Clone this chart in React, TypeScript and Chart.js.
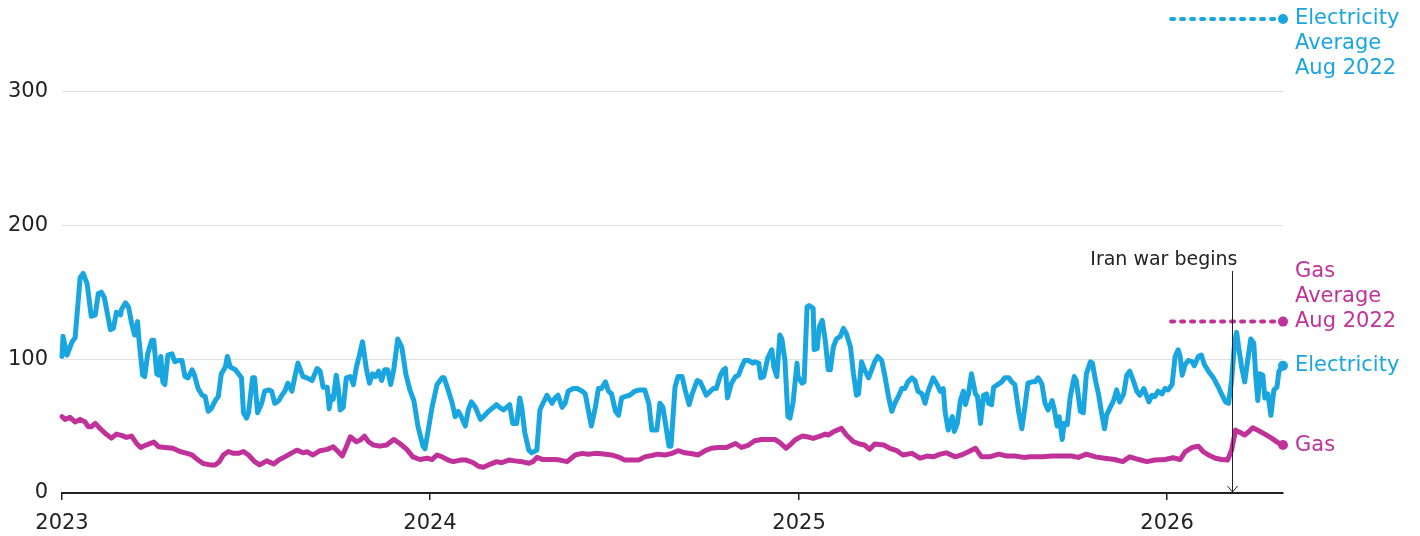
import React, { useEffect, useRef } from "react";
import { Chart, registerables } from "chart.js";

Chart.register(...registerables);

// Days since 2023-01-01
const elecDays = [0,1,5,10,13,18,21,25,29,33,36,39,42,48,51,54,58,59,63,66,69,72,75,76,80,82,85,89,91,94,96,98,100,102,105,109,112,115,119,122,125,129,131,135,139,142,145,148,152,155,158,162,164,167,172,175,178,180,183,185,189,191,194,198,201,205,208,211,215,218,221,224,228,231,234,239,243,248,253,256,259,263,265,267,269,272,274,276,279,282,286,289,292,295,298,302,305,308,311,314,317,320,323,326,329,333,337,341,345,349,353,358,360,363,367,372,377,379,383,387,390,393,396,400,403,406,410,415,418,423,428,431,434,438,441,444,447,451,454,456,459,463,466,471,474,477,481,486,489,492,496,499,502,507,511,516,519,522,525,529,532,535,539,542,545,549,552,555,558,563,568,573,578,582,585,590,593,596,600,602,604,608,611,615,618,622,625,630,633,636,639,643,646,649,653,656,658,660,664,668,671,674,677,681,685,687,691,693,696,700,704,706,709,712,714,717,720,722,725,729,730,734,736,739,741,745,746,749,751,754,757,760,762,765,768,772,775,778,782,785,788,790,793,796,800,803,806,809,813,816,820,823,826,830,833,836,839,843,846,849,853,856,859,864,868,871,874,876,879,883,885,888,891,894,896,899,902,906,908,911,914,917,919,922,924,928,932,935,939,942,945,949,952,955,958,962,965,968,970,972,975,978,982,984,987,989,992,994,997,1000,1004,1006,1010,1013,1016,1020,1022,1025,1028,1031,1034,1036,1039,1043,1046,1049,1053,1056,1059,1063,1066,1069,1073,1078,1081,1084,1087,1091,1094,1097,1101,1104,1107,1109,1111,1114,1117,1121,1123,1127,1130,1133,1137,1142,1147,1150,1154,1157,1160,1163,1165,1167,1170,1173,1176,1179,1182,1184,1186,1188,1191,1193,1196,1199,1202,1205,1207,1211];
const elecValues = [102,117,103,113,116,161,164,156,132,133,149,150,146,122,123,135,133,137,142,139,127,118,128,117,88,87,104,114,114,89,88,102,83,81,103,104,98,99,99,87,86,92,89,78,73,72,61,63,69,72,89,94,102,94,92,89,86,60,56,60,86,86,60,67,76,77,76,67,69,73,76,82,76,87,97,87,86,84,93,91,79,79,63,72,70,88,78,62,64,86,87,81,94,103,113,92,82,89,87,91,84,92,92,81,92,115,109,89,77,69,50,35,33,46,64,81,86,86,77,67,57,61,57,50,62,68,64,55,57,61,64,66,64,62,64,66,52,52,71,64,45,32,30,32,62,67,73,67,71,73,64,67,76,78,78,76,74,62,50,64,78,78,83,76,74,61,58,71,72,73,76,77,77,67,47,47,67,64,45,35,35,79,87,87,77,66,74,84,83,78,73,76,78,78,88,92,93,71,82,87,88,94,99,99,97,98,97,86,87,101,107,94,87,118,115,99,57,56,67,97,87,82,83,139,140,138,107,108,124,129,114,92,92,109,115,117,123,119,109,89,73,74,98,92,86,92,98,102,99,88,71,61,67,73,78,78,83,86,84,76,74,67,76,86,81,76,78,60,47,57,46,52,69,76,66,74,89,74,72,52,73,74,67,66,79,81,83,86,86,83,81,60,48,64,82,83,83,86,84,81,67,62,69,63,50,57,40,52,51,72,87,84,61,60,89,98,97,84,74,60,48,58,63,69,77,68,74,88,91,83,76,73,78,68,73,72,76,74,78,77,81,102,107,102,88,96,99,98,95,102,103,96,91,86,79,74,68,67,84,112,120,109,94,83,99,115,112,87,69,89,88,71,74,58,77,79,91,95];

const gasDays = [0,3,8,13,18,23,26,29,33,38,43,49,54,59,64,69,74,78,84,91,96,102,110,117,124,129,135,140,147,152,156,160,165,170,175,180,185,191,196,203,210,215,221,228,233,239,243,249,256,263,269,274,278,282,286,292,296,300,304,309,315,322,329,335,342,348,355,362,367,372,377,383,388,395,401,408,413,418,425,431,436,443,449,456,463,467,471,477,482,489,494,501,509,516,522,529,535,545,552,558,565,572,578,585,591,598,605,611,618,625,631,638,644,651,659,668,674,681,687,694,701,707,712,718,722,727,734,739,745,752,757,760,765,773,778,785,791,796,801,806,815,821,828,834,843,851,858,864,871,877,886,892,899,906,912,920,929,937,945,954,960,968,972,982,992,1001,1008,1016,1025,1034,1044,1052,1059,1068,1076,1084,1094,1102,1109,1114,1121,1127,1132,1137,1144,1150,1156,1160,1164,1167,1173,1177,1181,1187,1193,1200,1206,1211];
const gasValues = [57,55,56.5,53,55,53,49.5,49.5,52,48,44.5,41,44,43,41.5,42.5,37,34,36,38,34.5,34,33.4,31,29.6,28.4,24.6,22,21,21,23.4,28.4,31,29.6,29.6,31,28.4,23.4,21,24,21.6,24.6,27,30,32,30,30.8,28.4,31.6,32.6,34.6,30.8,27.6,34.6,42,38.3,39.6,42.5,38.3,35.8,35,35.8,40,37,32.6,27,25,26,25,28.4,27,24.6,23.4,24.6,24.6,22.6,20,19.2,21.6,23.4,22.6,24.6,24,23.4,22.2,23.4,26.6,25,25,25,24.6,23.4,28.4,29.6,28.9,29.6,29.3,28.4,26.8,24.6,24.6,24.6,27,28,29,28.4,29.6,31.6,30,29.3,28.4,31.6,33.4,34,34,37,34,35.8,39,40,40,40,37.6,33.4,35.8,39.6,42.5,42,40.8,42.5,44,43.3,45.7,48.3,43.3,38.3,36.6,35.8,32.6,36.6,35.8,33.4,31.6,28.4,29.6,26,27.6,27,29,30,27,28.4,30.8,33.4,27,27,29,27.6,27.6,26.6,27,27,27,27.6,27.6,27.6,26.6,29,27,26,25,23.4,27,25,23.4,24.6,25,26.3,25,30.8,34,35,30.8,28.4,26,25,24.6,32,47,45.7,43.3,45.7,48.7,46.5,44,40.8,37.6,35.8];

const avgDays = [1100, 1211];
const elecAvgAug2022 = [354, 354];
const gasAvgAug2022 = [128, 128];

const yTicks = [0, 100, 200, 300];
const xTickDays = [0, 365, 731, 1096];
const xTickLabels = ["2023", "2024", "2025", "2026"];

const warDay = 1160;
const warLabel = "Iran war begins";

const BLUE = "#19a5e0";
const MAGENTA = "#c0329a";
const TEXT = "#222222";
const FONT = "'DejaVu Sans'";

const toXY = (xs: number[], ys: number[]) => xs.map((x, i) => ({ x, y: ys[i] }));

export default function App() {
  const ref = useRef<HTMLCanvasElement | null>(null);

  useEffect(() => {
    if (!ref.current) return;
    const lastDot = (n: number) => (ctx: any) => (ctx.dataIndex === n - 1 ? 5 : 0);

    const annotations = {
      id: "annotations",
      afterDatasetsDraw(chart: any) {
        const { ctx, chartArea, scales } = chart;
        const xs = scales.x;
        const ys = scales.y;
        ctx.save();
        // war line
        const wx = Math.round(xs.getPixelForValue(warDay)) + 0.5;
        const top = 271;
        const bottom = ys.getPixelForValue(0) - 1;
        ctx.strokeStyle = TEXT;
        ctx.lineWidth = 1;
        ctx.beginPath();
        ctx.moveTo(wx, top);
        ctx.lineTo(wx, bottom);
        ctx.moveTo(wx - 5, bottom - 6);
        ctx.lineTo(wx, bottom);
        ctx.lineTo(wx + 5, bottom - 6);
        ctx.stroke();
        ctx.fillStyle = TEXT;
        ctx.font = `19px ${FONT}`;
        ctx.textAlign = "right";
        ctx.textBaseline = "middle";
        ctx.fillText(warLabel, wx + 5, 260);

        // right labels
        const lx = chartArea.right + 12;
        ctx.textAlign = "left";
        ctx.font = `21px ${FONT}`;
        const lh = 25;
        ctx.fillStyle = BLUE;
        const ea = ys.getPixelForValue(elecAvgAug2022[1]);
        ctx.fillText("Electricity", lx, ea);
        ctx.fillText("Average", lx, ea + lh);
        ctx.fillText("Aug 2022", lx, ea + 2 * lh);
        ctx.fillText("Electricity", lx, ys.getPixelForValue(elecValues[elecValues.length - 1]));
        ctx.fillStyle = MAGENTA;
        const ga = ys.getPixelForValue(gasAvgAug2022[1]);
        ctx.fillText("Gas", lx, ga - 2 * lh);
        ctx.fillText("Average", lx, ga - lh);
        ctx.fillText("Aug 2022", lx, ga);
        ctx.fillText("Gas", lx, ys.getPixelForValue(gasValues[gasValues.length - 1]));
        ctx.restore();
      },
    };

    const common = {
      pointHoverRadius: 0,
      pointBorderWidth: 0,
      clip: false,
    };

    const chart = new Chart(ref.current, {
      type: "line",
      data: {
        datasets: [
          {
            ...common,
            label: "Electricity Average Aug 2022",
            data: toXY(avgDays, elecAvgAug2022),
            borderColor: BLUE,
            backgroundColor: BLUE,
            borderWidth: 4,
            borderDash: [3, 7],
            borderCapStyle: "round",
            pointRadius: lastDot(2),
          },
          {
            ...common,
            label: "Gas Average Aug 2022",
            data: toXY(avgDays, gasAvgAug2022),
            borderColor: MAGENTA,
            backgroundColor: MAGENTA,
            borderWidth: 4,
            borderDash: [3, 7],
            borderCapStyle: "round",
            pointRadius: lastDot(2),
          },
          {
            ...common,
            label: "Gas",
            data: toXY(gasDays, gasValues),
            borderColor: MAGENTA,
            backgroundColor: MAGENTA,
            borderWidth: 5,
            borderJoinStyle: "round",
            borderCapStyle: "round",
            pointRadius: lastDot(gasValues.length),
            tension: 0,
          },
          {
            ...common,
            label: "Electricity",
            data: toXY(elecDays, elecValues),
            borderColor: BLUE,
            backgroundColor: BLUE,
            borderWidth: 5,
            borderJoinStyle: "round",
            borderCapStyle: "round",
            pointRadius: lastDot(elecValues.length),
            tension: 0,
          },
        ],
      } as any,
      options: {
        animation: false,
        responsive: true,
        maintainAspectRatio: false,
        layout: { padding: { top: 11, right: 137, left: 0, bottom: 0 } },
        plugins: { legend: { display: false }, tooltip: { enabled: false } },
        scales: {
          x: {
            type: "linear",
            min: 0,
            max: 1211,
            afterBuildTicks: (s: any) => {
              s.ticks = xTickDays.map((v) => ({ value: v }));
            },
            afterFit: (s: any) => {
              s.height = 43;
              s.paddingLeft = 0;
              s.paddingRight = 0;
            },
            ticks: {
              autoSkip: false,
              maxRotation: 0,
              padding: 11,
              color: TEXT,
              font: { family: "DejaVu Sans", size: 21 },
              callback: (v: any) => {
                const i = xTickDays.indexOf(Number(v));
                return i >= 0 ? xTickLabels[i] : "";
              },
            },
            grid: {
              drawOnChartArea: false,
              drawTicks: true,
              tickLength: 7,
              color: TEXT,
              lineWidth: 1.5,
            },
            border: { display: true, color: TEXT, width: 2 },
          },
          y: {
            type: "linear",
            min: 0,
            max: 360,
            afterBuildTicks: (s: any) => {
              s.ticks = yTicks.map((v) => ({ value: v }));
            },
            afterFit: (s: any) => {
              s.width = 62;
              s.paddingTop = 0;
              s.paddingBottom = 0;
            },
            ticks: {
              padding: 14,
              color: TEXT,
              font: { family: "DejaVu Sans", size: 21 },
            },
            grid: {
              drawTicks: false,
              color: (c: any) => (c.tick && c.tick.value === 0 ? "rgba(0,0,0,0)" : "#e0e0e0"),
              lineWidth: 1,
            },
            border: { display: false },
          },
        },
      } as any,
      plugins: [annotations],
    });
    return () => chart.destroy();
  }, []);

  return (
    <div style={{ position: "absolute", left: 0, top: 0, width: 1420, height: 536, background: "#fff" }}>
      <canvas ref={ref} />
    </div>
  );
}
